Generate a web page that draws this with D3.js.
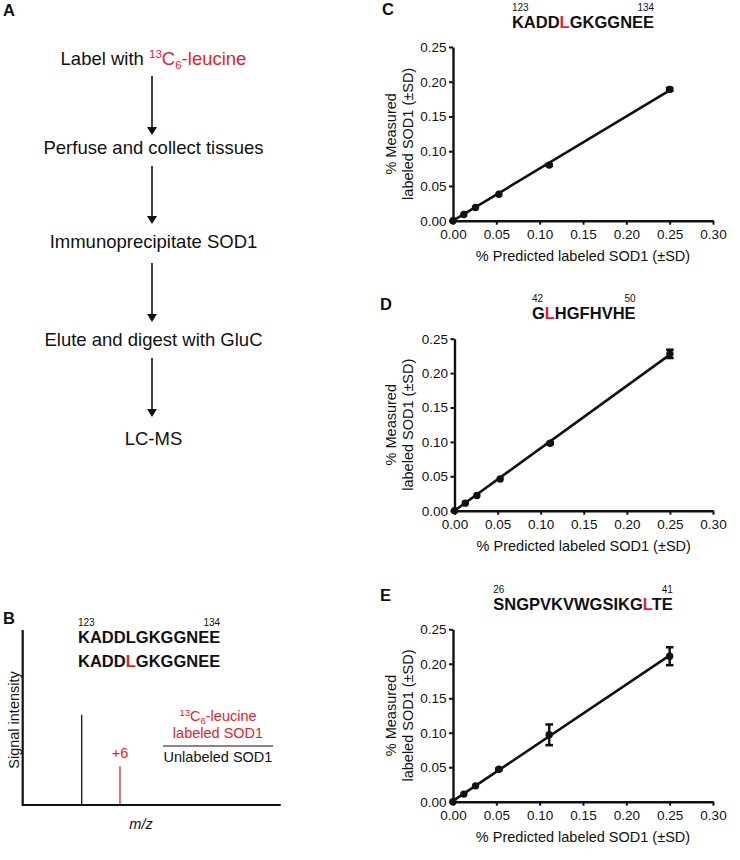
<!DOCTYPE html>
<html>
<head>
<meta charset="utf-8">
<script src="https://cdn.jsdelivr.net/npm/d3@7"></script>
<style>
  html, body { margin: 0; padding: 0; background: #fff; }
  svg { display: block; }
  text { font-family: "Liberation Sans", Arial, Helvetica, sans-serif; fill: #111; }
</style>
</head>
<body>
<svg id="fig" width="740" height="860"></svg>
<script>
// ---------------- DATA ----------------
const flowSteps = ["Label with", "Perfuse and collect tissues", "Immunoprecipitate SOD1", "Elute and digest with GluC", "LC-MS"];
const xTicks = [0, 0.05, 0.10, 0.15, 0.20, 0.25, 0.30];
const yTicks = [0, 0.05, 0.10, 0.15, 0.20, 0.25];
const predicted = [0, 0.0125, 0.026, 0.053, 0.111, 0.25];
const measuredC = [0, 0.009, 0.019, 0.038, 0.080, 0.189];
const sdC = [0, 0, 0, 0, 0.001, 0.002];
const measuredD = [0, 0.011, 0.022, 0.046, 0.098, 0.228];
const sdD = [0, 0, 0, 0, 0.001, 0.006];
const measuredE = [0, 0.011, 0.023, 0.047, 0.097, 0.211];
const sdE = [0, 0, 0, 0.001, 0.015, 0.013];
const peptideC = {seq: "KADDLGKGGNEE", red: 4, start: "123", end: "134"};
const peptideD = {seq: "GLHGFHVHE", red: 1, start: "42", end: "50"};
const peptideE = {seq: "SNGPVKVWGSIKGLTE", red: 13, start: "26", end: "41"};
const peakMz = [0, 6];
const peakIntensity = [1.0, 0.43];
const peakLabels = ["", "+6"];

// ---------------- STYLE ----------------
const RED = "#e4222b";
const svg = d3.select("#fig");
const font = "'Liberation Sans', Arial, Helvetica, sans-serif";

function label(x, y, t) {
  svg.append("text").attr("x", x).attr("y", y).text(t)
    .attr("font-size", 16.5).attr("font-weight", "bold");
}

// ---------------- PANEL A: flowchart ----------------
label(3, 16, "A");
const stepY = [65, 154, 248, 346, 445];
const arrows = [[76, 135], [166, 224], [263, 322], [358, 417]];
const cx = 153.5, ax = 152;
flowSteps.forEach((s, i) => {
  const t = svg.append("text").attr("x", cx).attr("y", stepY[i])
    .attr("text-anchor", "middle").attr("font-size", 18.5);
  if (i === 0) {
    t.append("tspan").text(s + " ");
    t.append("tspan").style("fill", RED).attr("font-size", 11.5).attr("dy", -7).text("13");
    t.append("tspan").style("fill", RED).attr("font-size", 18.5).attr("dy", 7).text("C");
    t.append("tspan").style("fill", RED).attr("font-size", 11.5).attr("dy", 4).text("6");
    t.append("tspan").style("fill", RED).attr("font-size", 18.5).attr("dy", -4).text("-leucine");
  } else {
    t.text(s);
  }
});
arrows.forEach(([y0, y1]) => {
  svg.append("line").attr("x1", ax).attr("x2", ax).attr("y1", y0).attr("y2", y1 - 6)
    .attr("stroke", "#111").attr("stroke-width", 1.6);
  svg.append("path").attr("d", `M${ax - 5},${y1 - 8}L${ax + 5},${y1 - 8}L${ax},${y1}Z`).attr("fill", "#111");
});

// ---------------- PANEL B: schematic spectrum ----------------
label(3, 624, "B");
const bx = d3.scaleLinear().domain([-9.25, 31.2]).range([22.7, 280.7]);
const by = d3.scaleLinear().domain([0, 1.94]).range([805, 630]);
svg.append("path").attr("d", `M${bx(-9.25)},${by(1.94)}V${by(0)}H${bx(31.2)}`)
  .attr("fill", "none").attr("stroke", "#111").attr("stroke-width", 2.2);
peakMz.forEach((m, i) => {
  svg.append("line").attr("x1", bx(m)).attr("x2", bx(m)).attr("y1", by(0) - 1).attr("y2", by(peakIntensity[i]))
    .attr("stroke", i === 0 ? "#111" : RED).attr("stroke-width", 1.3);
  if (peakLabels[i]) {
    svg.append("text").attr("x", bx(m)).attr("y", by(peakIntensity[i]) - 8).attr("text-anchor", "middle")
      .attr("font-size", 14.5).style("fill", RED).text(peakLabels[i]);
  }
});
svg.append("text").attr("transform", "translate(19,720) rotate(-90)").attr("text-anchor", "middle")
  .attr("font-size", 14.5).text("Signal intensity");
svg.append("text").attr("x", 141).attr("y", 829).attr("text-anchor", "middle")
  .attr("font-size", 14.5).attr("font-style", "italic").text("m/z");

function peptideText(x, y, pep, anchor, colorRed, size) {
  const t = svg.append("text").attr("x", x).attr("y", y).attr("text-anchor", anchor)
    .attr("font-size", size).attr("font-weight", "bold");
  pep.seq.split("").forEach((c, i) => {
    t.append("tspan").text(c).style("fill", (colorRed && i === pep.red) ? RED : "#111");
  });
  return t;
}
function superscripts(t, pep, dyUp) {
  const bb = t.node().getBBox();
  const yb = +t.attr("y") - dyUp;
  svg.append("text").attr("x", bb.x).attr("y", yb).attr("font-size", 10).text(pep.start);
  svg.append("text").attr("x", bb.x + bb.width).attr("y", yb).attr("text-anchor", "end").attr("font-size", 10).text(pep.end);
}
const tb1 = peptideText(78, 643, peptideC, "start", false, 16.5);
superscripts(tb1, peptideC, 17.5);
peptideText(78, 667, peptideC, "start", true, 16.5);

// fraction
const fx = 218;
const f1 = svg.append("text").attr("x", fx).attr("y", 721).attr("text-anchor", "middle").attr("font-size", 14.5);
f1.append("tspan").style("fill", RED).attr("font-size", 9.5).attr("dy", -5).text("13");
f1.append("tspan").style("fill", RED).attr("font-size", 14.5).attr("dy", 5).text("C");
f1.append("tspan").style("fill", RED).attr("font-size", 9.5).attr("dy", 3).text("6");
f1.append("tspan").style("fill", RED).attr("font-size", 14.5).attr("dy", -3).text("-leucine");
svg.append("text").attr("x", fx).attr("y", 738).attr("text-anchor", "middle").attr("font-size", 14.5)
  .style("fill", RED).text("labeled SOD1");
svg.append("line").attr("x1", 163).attr("x2", 273).attr("y1", 746).attr("y2", 746).attr("stroke", "#111").attr("stroke-width", 1.2);
svg.append("text").attr("x", fx).attr("y", 762).attr("text-anchor", "middle").attr("font-size", 14.5).text("Unlabeled SOD1");

// ---------------- PANELS C, D, E: scatter ----------------
function scatterPanel(opts) {
  const {letter, lx, ly, xr, yr, pep, titleY, meas, sd} = opts;
  label(lx, ly, letter);
  const x = d3.scaleLinear().domain([0, 0.30]).range(xr);
  const y = d3.scaleLinear().domain([0, 0.25]).range(yr);
  const g = svg.append("g");
  const xAxis = d3.axisBottom(x).tickValues(xTicks).tickFormat(d3.format(".2f")).tickSize(4).tickSizeOuter(0).tickPadding(4.5);
  const yAxis = d3.axisLeft(y).tickValues(yTicks).tickFormat(d3.format(".2f")).tickSize(4).tickSizeOuter(0).tickPadding(2.5);
  const gx = g.append("g").attr("transform", `translate(0,${yr[0]})`).call(xAxis);
  const gy = g.append("g").attr("transform", `translate(${xr[0]},0)`).call(yAxis);
  [gx, gy].forEach(a => {
    a.select(".domain").attr("stroke", "#111").attr("stroke-width", 2.4);
    a.selectAll(".tick line").attr("stroke", "#111").attr("stroke-width", 2);
    a.selectAll(".tick text").attr("font-family", font).attr("font-size", 13.5).attr("fill", "#111");
  });
  const xm = (xr[0] + xr[1]) / 2, ym = (yr[0] + yr[1]) / 2;
  g.append("text").attr("x", xm).attr("y", yr[0] + 40).attr("text-anchor", "middle").attr("font-size", 14.5)
    .text("% Predicted labeled SOD1 (±SD)");
  g.append("text").attr("transform", `translate(396,${ym}) rotate(-90)`).attr("text-anchor", "middle").attr("font-size", 14.5)
    .text("% Measured");
  g.append("text").attr("transform", `translate(412.5,${ym}) rotate(-90)`).attr("text-anchor", "middle").attr("font-size", 14.5)
    .text("labeled SOD1 (±SD)");
  // regression line
  const n = predicted.length;
  const mx = d3.mean(predicted), my = d3.mean(meas);
  let sxy = 0, sxx = 0;
  for (let i = 0; i < n; i++) { sxy += (predicted[i] - mx) * (meas[i] - my); sxx += (predicted[i] - mx) ** 2; }
  const slope = sxy / sxx, icpt = my - slope * mx;
  const x0 = 0, x1 = d3.max(predicted);
  g.append("line").attr("x1", x(x0)).attr("y1", y(Math.max(0, icpt + slope * x0)))
    .attr("x2", x(x1)).attr("y2", y(icpt + slope * x1)).attr("stroke", "#111").attr("stroke-width", 2.6);
  // error bars
  predicted.forEach((p, i) => {
    if (sd[i] <= 0) return;
    const px = x(p);
    g.append("line").attr("x1", px).attr("x2", px).attr("y1", y(meas[i] - sd[i])).attr("y2", y(meas[i] + sd[i]))
      .attr("stroke", "#111").attr("stroke-width", 2.5);
    [meas[i] - sd[i], meas[i] + sd[i]].forEach(v => {
      g.append("line").attr("x1", px - 3.8).attr("x2", px + 3.8).attr("y1", y(v)).attr("y2", y(v))
        .attr("stroke", "#111").attr("stroke-width", 2.6);
    });
  });
  g.selectAll("circle.pt").data(predicted).join("circle").attr("class", "pt")
    .attr("cx", d => x(d)).attr("cy", (d, i) => y(meas[i])).attr("r", 3.7).attr("fill", "#111");
  // title
  const t = peptideText(xm, titleY, pep, "middle", true, 16.5);
  superscripts(t, pep, 17);
}

scatterPanel({letter: "C", lx: 382, ly: 15, xr: [453, 713], yr: [220.7, 47], pep: peptideC, titleY: 28, meas: measuredC, sd: sdC});
scatterPanel({letter: "D", lx: 380, ly: 310, xr: [454.5, 713], yr: [510.7, 338.7], pep: peptideD, titleY: 319, meas: measuredD, sd: sdD});
scatterPanel({letter: "E", lx: 380, ly: 601, xr: [453, 713], yr: [801.7, 629.3], pep: peptideE, titleY: 610, meas: measuredE, sd: sdE});
</script>
</body>
</html>
